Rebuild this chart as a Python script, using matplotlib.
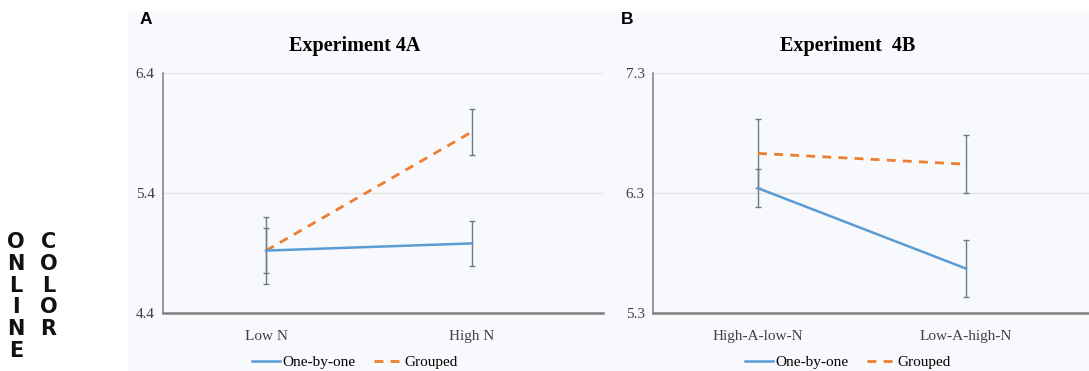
import matplotlib
matplotlib.use('Agg')
import matplotlib.pyplot as plt
from matplotlib.patches import Rectangle
from matplotlib.lines import Line2D

# data
cats_a = ['Low N', 'High N']
one_a = [4.92, 4.98]
one_a_err = [0.19, 0.19]
grp_a = [4.92, 5.91]
grp_a_err = [0.28, 0.19]
yticks_a = [4.4, 5.4, 6.4]

cats_b = ['High-A-low-N', 'Low-A-high-N']
one_b = [6.34, 5.67]
one_b_err = [0.16, 0.24]
grp_b = [6.63, 6.54]
grp_b_err = [0.29, 0.24]
yticks_b = [5.3, 6.3, 7.3]

BLUE = '#5b9bd5'
ORANGE = '#ed7d31'
ERR = '#6e7b85'
BG = '#f8f9fc'
SERIF = ['Liberation Serif', 'DejaVu Serif']
GRP_DASH = (3.2, 2.6)

W, H = 1089, 371
fig = plt.figure(figsize=(W / 100, H / 100), dpi=100)
fig.patch.set_facecolor('white')
fig.patches.append(Rectangle((128 / W, 0), 1 - 128 / W, 1 - 12 / H,
                             transform=fig.transFigure, facecolor=BG,
                             edgecolor='none', zorder=-10))


def panel(rect, cats, one, one_err, grp, grp_err, yticks, xlim, title, title_x, letter, letter_x):
    ax = fig.add_axes(rect)
    ax.set_facecolor(BG)
    x = list(range(len(cats)))
    ax.errorbar(x, grp, yerr=grp_err, color=ORANGE, lw=2.0, dashes=GRP_DASH,
                ecolor=ERR, elinewidth=1.0, capsize=2.5, capthick=1.0, zorder=3)
    ax.errorbar(x, one, yerr=one_err, color=BLUE, lw=1.8,
                ecolor=ERR, elinewidth=1.0, capsize=2.5, capthick=1.0, zorder=4)
    ax.set_xlim(*xlim)
    ax.set_ylim(yticks[0], yticks[-1])
    ax.set_yticks(yticks)
    ax.set_yticklabels([f'{t:.1f}' for t in yticks], family=SERIF, fontsize=11, color='#404040')
    ax.set_xticks(x)
    ax.set_xticklabels(cats, family=SERIF, fontsize=11, color='#404040')
    ax.tick_params(length=0, pad=12)
    ax.tick_params(axis='y', pad=6)
    ax.grid(axis='y', color='#e2e2e2', lw=1.0)
    ax.set_axisbelow(True)
    for s in ['top', 'right']:
        ax.spines[s].set_visible(False)
    ax.spines['left'].set_color('#7f7f7f')
    ax.spines['left'].set_linewidth(1.1)
    ax.spines['bottom'].set_color('#7f7f7f')
    ax.spines['bottom'].set_linewidth(1.8)

    fig.text(title_x / W, 1 - 46 / H, title, ha='center', va='center',
             family=SERIF, fontsize=14.5, fontweight='bold', color='black')
    fig.text(letter_x / W, 1 - 20 / H, letter, ha='left', va='center',
             family=['Liberation Sans', 'DejaVu Sans'], fontsize=12.5, fontweight='bold')

    handles = [Line2D([], [], color=BLUE, lw=1.8),
               Line2D([], [], color=ORANGE, lw=2.0, dashes=GRP_DASH)]
    fig.legend(handles, ['One-by-one', 'Grouped'], loc='center',
               bbox_to_anchor=(title_x / W, 9 / H),
               ncol=2, frameon=False, prop={'family': SERIF, 'size': 11},
               handlelength=1.8, handletextpad=0.2, columnspacing=1.2,
               borderaxespad=0, borderpad=0)
    return ax


bottom = (H - 313) / H
height = 240 / H
panel([163 / W, bottom, (603 - 163) / W, height], cats_a, one_a, one_a_err, grp_a, grp_a_err,
      yticks_a, (-0.5, 1.636), 'Experiment 4A', 355, 'A', 140)
panel([653 / W, bottom, (1089 - 653) / W, height], cats_b, one_b, one_b_err, grp_b, grp_b_err,
      yticks_b, (-0.505, 1.591), 'Experiment  4B', 848, 'B', 621)

# vertical "ONLINE COLOR" stamp on the left, one stacked text per word
for word, xc in [('ONLINE', 16), ('COLOR', 48.5)]:
    fig.text(xc / W, 1 - 232 / H, '\n'.join(word), ha='center', va='top',
             multialignment='center', linespacing=1.11,
             family=['DejaVu Sans'], fontsize=15, fontweight='heavy', color='#111111')

fig.savefig('out.png', dpi=100, facecolor=fig.get_facecolor())
